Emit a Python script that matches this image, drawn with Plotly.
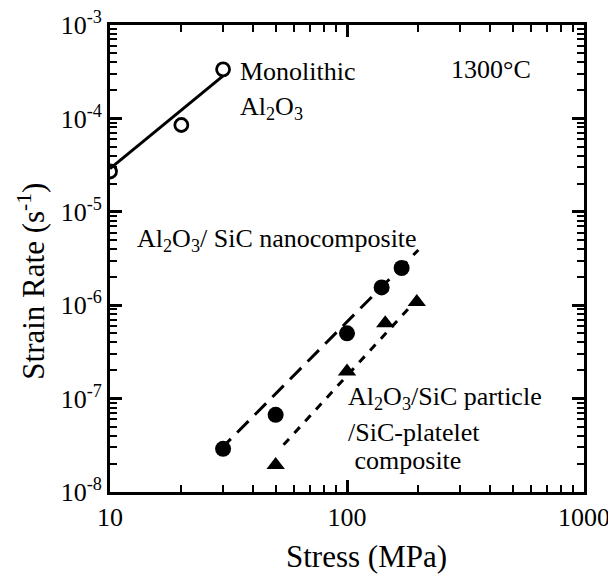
import plotly.graph_objects as go

# Data
mono_stress = [10, 20, 30]
mono_rate = [2.7e-5, 8.5e-5, 3.35e-4]
mono_fit_x = [10, 30]
mono_fit_y = [2.9e-5, 2.85e-4]

nano_stress = [30, 50, 100, 140, 170]
nano_rate = [2.9e-8, 6.7e-8, 5.0e-7, 1.55e-6, 2.5e-6]
nano_fit_x = [29, 200]
nano_fit_y = [2.8e-8, 3.9e-6]

plate_stress = [50, 100, 145, 197]
plate_rate = [1.95e-8, 1.95e-7, 6.4e-7, 1.08e-6]
plate_fit_x = [54, 203]
plate_fit_y = [3.2e-8, 1.25e-6]

x_ticks = [10, 100, 1000]
x_ticktext = ["10", "100", "1000"]
y_ticks = [1e-8, 1e-7, 1e-6, 1e-5, 1e-4, 1e-3]
y_ticktext = ["10<sup>-8</sup>", "10<sup>-7</sup>", "10<sup>-6</sup>", "10<sup>-5</sup>",
              "10<sup>-4</sup>", "10<sup>-3</sup>"]

FONT = "Liberation Serif, DejaVu Serif, serif"

fig = go.Figure()
fig.add_trace(go.Scatter(x=mono_fit_x, y=mono_fit_y, mode="lines",
                         line=dict(color="black", width=3), showlegend=False))
fig.add_trace(go.Scatter(x=mono_stress, y=mono_rate, mode="markers",
                         marker=dict(symbol="circle-open", size=13, color="black",
                                     line=dict(width=2.8, color="black")), showlegend=False))
fig.add_trace(go.Scatter(x=nano_fit_x, y=nano_fit_y, mode="lines",
                         line=dict(color="black", width=3, dash="16px,9px"), showlegend=False))
fig.add_trace(go.Scatter(x=nano_stress, y=nano_rate, mode="markers",
                         marker=dict(symbol="circle", size=16, color="black"), showlegend=False))
fig.add_trace(go.Scatter(x=plate_fit_x, y=plate_fit_y, mode="lines",
                         line=dict(color="black", width=3, dash="8px,8px"), showlegend=False))
fig.add_trace(go.Scatter(x=plate_stress, y=plate_rate, mode="markers",
                         marker=dict(symbol="triangle-up", size=16, color="black"), showlegend=False))

ann = dict(showarrow=False, font=dict(family=FONT, size=26, color="black"),
           xanchor="left", yanchor="middle", align="left")
fig.add_annotation(x=1.54, y=-3.50, xref="x", yref="y", text="Monolithic", **ann)
fig.add_annotation(x=1.54, y=-3.89, xref="x", yref="y", text="Al<sub>2</sub>O<sub>3</sub>", **ann)
fig.add_annotation(x=2.43, y=-3.48, xref="x", yref="y", text="1300°C", **ann)
fig.add_annotation(x=1.105, y=-5.30, xref="x", yref="y",
                   text="Al<sub>2</sub>O<sub>3</sub>/ SiC nanocomposite", **ann)
fig.add_annotation(x=1.995, y=-6.99, xref="x", yref="y",
                   text="Al<sub>2</sub>O<sub>3</sub>/SiC particle", **ann)
fig.add_annotation(x=1.995, y=-7.36, xref="x", yref="y", text="/SiC-platelet", **ann)
fig.add_annotation(x=1.995, y=-7.66, xref="x", yref="y", text=" composite", **ann)

# axis titles
fig.add_annotation(x=0.542, y=-0.138, xref="paper", yref="paper", text="Stress (MPa)",
                   showarrow=False, xanchor="center", yanchor="middle",
                   font=dict(family=FONT, size=31, color="black"))
fig.add_annotation(x=-0.165, y=0.452, xref="paper", yref="paper",
                   text="Strain Rate (s<sup>-1</sup>)", textangle=-90,
                   showarrow=False, xanchor="center", yanchor="middle",
                   font=dict(family=FONT, size=31, color="black"))

axis_common = dict(showline=True, linecolor="black", linewidth=3, mirror="ticks",
                   ticks="inside", ticklen=12, tickwidth=2.5, tickcolor="black",
                   showgrid=False, zeroline=False, automargin=False,
                   ticklabeloverflow="allow",
                   tickfont=dict(family=FONT, size=26, color="black"))

fig.update_xaxes(type="log", range=[1, 3], tickvals=x_ticks, ticktext=x_ticktext,
                 minor=dict(ticks="inside", ticklen=7, tickwidth=2, tickcolor="black",
                            dtick="D1", showgrid=False),
                 **axis_common)
fig.update_yaxes(type="log", range=[-8, -3], tickvals=y_ticks, ticktext=y_ticktext,
                 minor=dict(ticks="inside", ticklen=7, tickwidth=2, tickcolor="black",
                            dtick="D1", showgrid=False),
                 **axis_common)

# page body has an 8px default margin, so the figure is sized to fit the window
fig.update_layout(width=608, height=570, margin=dict(l=102, r=32, t=17, b=86),
                  plot_bgcolor="white", paper_bgcolor="white",
                  font=dict(family=FONT, color="black"))

fig.write_html("out.html")
